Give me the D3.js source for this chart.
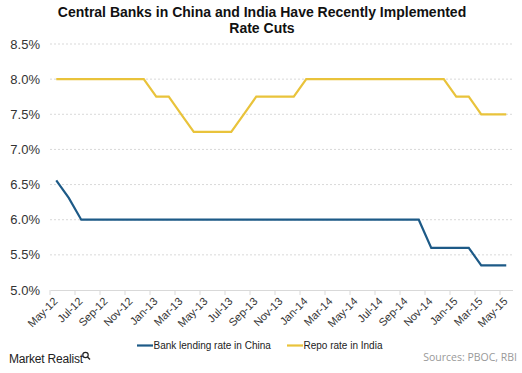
<!DOCTYPE html>
<html>
<head>
<meta charset="utf-8">
<script src="https://cdn.jsdelivr.net/npm/d3@7"></script>
<style>
body { margin: 0; background: #fff; }
svg { display: block; font-family: Arial, "Liberation Sans", sans-serif; }
</style>
</head>
<body>
<div id="chart"></div>
<script>
// monthly, May-12 .. May-15
var months = ["May-12","Jun-12","Jul-12","Aug-12","Sep-12","Oct-12","Nov-12","Dec-12",
  "Jan-13","Feb-13","Mar-13","Apr-13","May-13","Jun-13","Jul-13","Aug-13","Sep-13","Oct-13","Nov-13","Dec-13",
  "Jan-14","Feb-14","Mar-14","Apr-14","May-14","Jun-14","Jul-14","Aug-14","Sep-14","Oct-14","Nov-14","Dec-14",
  "Jan-15","Feb-15","Mar-15","Apr-15","May-15"];

var chinaRate = [6.56,6.31,6,6,6,6,6,6,
  6,6,6,6,6,6,6,6,6,6,6,6,
  6,6,6,6,6,6,6,6,6,6,5.6,5.6,
  5.6,5.6,5.35,5.35,5.35];

var indiaRate = [8,8,8,8,8,8,8,8,
  7.75,7.75,7.5,7.25,7.25,7.25,7.25,7.5,7.75,7.75,7.75,7.75,
  8,8,8,8,8,8,8,8,8,8,8,8,
  7.75,7.75,7.5,7.5,7.5];

var yTicks = [5.0,5.5,6.0,6.5,7.0,7.5,8.0,8.5];

var seriesNames = ["Bank lending rate in China","Repo rate in India"];
var colors = ["#1d5a87","#e9c33b"];

var width = 522, height = 373;
var svg = d3.select("#chart").append("svg")
  .attr("width", width)
  .attr("height", height);

var x = d3.scaleBand().domain(months).range([50, 512.5]);
var y = d3.scaleLinear().domain([5, 8.5]).range([290, 44]);

// title
svg.append("text")
  .attr("x", 262).attr("y", 17)
  .attr("text-anchor", "middle")
  .style("font-size", "14px").style("font-weight", "bold").style("fill", "#111")
  .text("Central Banks in China and India Have Recently Implemented");
svg.append("text")
  .attr("x", 262).attr("y", 33)
  .attr("text-anchor", "middle")
  .style("font-size", "14px").style("font-weight", "bold").style("fill", "#111")
  .text("Rate Cuts");

// grid
svg.append("g").selectAll("line")
  .data(yTicks.filter(function(d){ return d > 5; }))
  .enter().append("line")
  .attr("x1", 50).attr("x2", 512)
  .attr("y1", function(d){ return y(d); })
  .attr("y2", function(d){ return y(d); })
  .attr("stroke", "#d9d9d9")
  .attr("stroke-dasharray", "2,2");

// y labels
svg.append("g").selectAll("text")
  .data(yTicks)
  .enter().append("text")
  .attr("x", 40)
  .attr("y", function(d){ return y(d) + 4.5; })
  .attr("text-anchor", "end")
  .style("font-size", "13px").style("fill", "#333")
  .text(function(d){ return d.toFixed(1) + "%"; });

// x axis
var xAxis = d3.axisBottom(x)
  .tickValues(months.filter(function(d, i){ return i % 2 == 0; }))
  .tickSize(0);
var gx = svg.append("g").attr("transform", "translate(0,290)").call(xAxis);
gx.select(".domain").attr("stroke", "#d9d9d9");
gx.selectAll(".tick text")
  .attr("text-anchor", "end")
  .attr("dy", 0).attr("y", 0)
  .attr("transform", "translate(2,12) rotate(-45)")
  .style("font-size", "11px").style("fill", "#333")
  .style("font-family", "Arial, 'Liberation Sans', sans-serif");

// ticks between categories every 2 months
var tickIdx = d3.range(0, months.length + 1, 2);
svg.append("g").selectAll("line")
  .data(tickIdx)
  .enter().append("line")
  .attr("x1", function(i){ return 50 + i * x.step(); })
  .attr("x2", function(i){ return 50 + i * x.step(); })
  .attr("y1", 290).attr("y2", 295)
  .attr("stroke", "#d9d9d9");

// lines
var line = d3.line()
  .x(function(d, i){ return x(months[i]) + x.bandwidth() / 2; })
  .y(function(d){ return y(d); });

[chinaRate, indiaRate].forEach(function(s, k){
  svg.append("path")
    .datum(s)
    .attr("d", line)
    .attr("fill", "none")
    .attr("stroke", colors[k])
    .attr("stroke-width", 2.2);
});

// legend
var legendX = [137, 287];
seriesNames.forEach(function(n, k){
  svg.append("line")
    .attr("x1", legendX[k]).attr("x2", legendX[k] + 16)
    .attr("y1", 345.5).attr("y2", 345.5)
    .attr("stroke", colors[k]).attr("stroke-width", 2.2);
  svg.append("text")
    .attr("x", legendX[k] + 16.5).attr("y", 349)
    .style("font-size", "10px").style("fill", "#222")
    .text(n);
});

// footer
svg.append("text")
  .attr("x", 9).attr("y", 363)
  .style("font-size", "12px").style("fill", "#222")
  .style("letter-spacing", "-0.2px")
  .text("Market Realist");
svg.append("circle")
  .attr("cx", 85.5).attr("cy", 355).attr("r", 2.7)
  .attr("fill", "none").attr("stroke", "#222").attr("stroke-width", 1.2);
svg.append("line")
  .attr("x1", 87.5).attr("y1", 357).attr("x2", 90).attr("y2", 359.5)
  .attr("stroke", "#222").attr("stroke-width", 1.4);

svg.append("text")
  .attr("x", 517).attr("y", 361)
  .attr("text-anchor", "end")
  .style("font-size", "10.5px").style("fill", "#999")
  .style("font-family", "'Open Sans', sans-serif")
  .text("Sources: PBOC, RBI");
</script>
</body>
</html>
